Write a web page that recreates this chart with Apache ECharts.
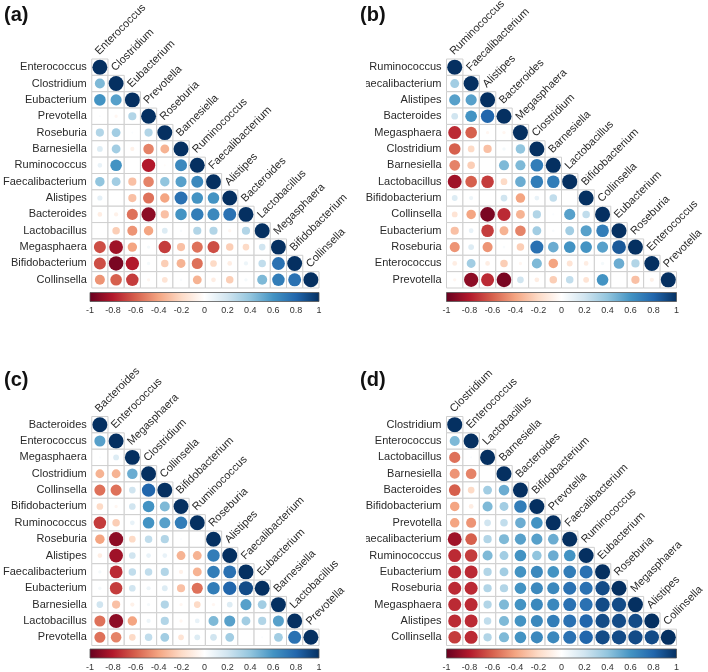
<!DOCTYPE html>
<html><head><meta charset="utf-8">
<script src="https://cdn.jsdelivr.net/npm/echarts@6/dist/echarts.min.js"></script>
<style>html,body{margin:0;padding:0;background:#fff}#c{width:708px;height:672px}</style>
</head><body><div id="c"></div>
<script>
// ---------- DATA ----------
const namesA = ["Enterococcus","Clostridium","Eubacterium","Prevotella","Roseburia","Barnesiella","Ruminococcus","Faecalibacterium","Alistipes","Bacteroides","Lactobacillus","Megasphaera","Bifidobacterium","Collinsella"];
const lowerA = [
  [],
  [0.45],
  [0.6,0.55],
  [0.02,-0.05,0.3],
  [0.3,0.35,0.02,0.3],
  [0.15,0.35,-0.08,-0.5,-0.35],
  [0.1,0.6,0.0,-0.8,-0.02,0.65],
  [0.4,0.35,-0.3,-0.5,0.4,0.55,0.65],
  [0.12,0.0,-0.3,-0.55,-0.4,0.75,0.6,0.6],
  [-0.1,-0.08,-0.55,-0.9,-0.3,0.6,0.7,0.65,0.75],
  [0.0,-0.25,-0.45,-0.4,0.15,0.03,0.3,0.3,-0.05,0.3],
  [-0.65,-0.85,-0.4,0.05,-0.7,-0.3,-0.55,-0.65,-0.25,-0.2,0.2],
  [-0.65,-0.95,-0.8,0.05,-0.25,-0.35,-0.55,-0.2,-0.1,0.08,0.25,0.75],
  [-0.45,-0.6,-0.7,-0.05,-0.15,0.03,-0.35,-0.1,-0.25,0.05,0.45,0.7,0.75]
];
const namesB = ["Ruminococcus","Faecalibacterium","Alistipes","Bacteroides","Megasphaera","Clostridium","Barnesiella","Lactobacillus","Bifidobacterium","Collinsella","Eubacterium","Roseburia","Enterococcus","Prevotella"];
const lowerB = [
  [],
  [0.35],
  [0.55,0.55],
  [0.2,0.6,0.8],
  [-0.75,-0.6,-0.05,-0.05],
  [-0.6,-0.2,-0.3,0.05,0.4],
  [-0.5,-0.25,0.0,0.45,0.45,0.7],
  [-0.85,-0.6,-0.7,-0.2,0.5,0.7,0.7],
  [0.15,0.08,0.0,0.2,-0.4,0.1,0.25,0.0],
  [-0.15,-0.4,-0.95,-0.75,-0.35,0.3,0.02,0.55,0.25],
  [-0.3,0.1,-0.7,-0.35,-0.5,0.35,0.03,0.35,0.55,0.7],
  [-0.45,0.15,-0.45,0.03,-0.25,0.75,0.5,0.6,0.6,0.55,0.85,0.9],
  [-0.1,0.35,-0.1,-0.25,-0.05,0.45,-0.4,-0.15,-0.1,0.05,0.5,0.3],
  [-0.05,-0.9,-0.75,-0.95,0.2,-0.1,-0.25,0.25,-0.15,0.6,0.0,-0.3,-0.08]
];
const namesC = ["Bacteroides","Enterococcus","Megasphaera","Clostridium","Collinsella","Bifidobacterium","Ruminococcus","Roseburia","Alistipes","Faecalibacterium","Eubacterium","Barnesiella","Lactobacillus","Prevotella"];
const lowerC = [
  [],
  [0.55],
  [0.02,0.15],
  [-0.35,-0.35,0.5],
  [-0.55,-0.55,0.2,0.8],
  [-0.2,-0.05,0.2,0.6,0.45],
  [-0.7,-0.25,0.1,0.6,0.55,0.7],
  [-0.4,-0.9,-0.2,0.25,0.3,0.02,0.0],
  [-0.1,-0.85,0.2,0.1,0.1,-0.35,-0.35,0.7],
  [0.05,-0.75,0.25,0.25,0.3,-0.08,-0.35,0.7,0.75],
  [0.05,-0.7,0.2,0.08,0.15,-0.3,-0.55,0.7,0.8,0.9],
  [0.2,-0.3,-0.08,0.05,0.3,-0.05,-0.2,-0.05,0.15,0.55,0.35],
  [-0.55,-0.9,-0.4,0.08,0.3,-0.05,0.1,0.45,0.55,0.35,0.3,0.55],
  [-0.55,-0.5,-0.2,0.25,0.35,-0.15,0.15,0.2,0.35,0.0,0.02,0.35,0.75]
];
const namesD = ["Clostridium","Enterococcus","Lactobacillus","Barnesiella","Bacteroides","Bifidobacterium","Prevotella","Faecalibacterium","Ruminococcus","Eubacterium","Roseburia","Megasphaera","Alistipes","Collinsella"];
const lowerD = [
  [],
  [0.45],
  [-0.55,0.02],
  [-0.45,-0.5,0.0],
  [-0.6,-0.2,0.35,0.5],
  [-0.4,-0.1,0.45,0.35,0.7],
  [-0.4,-0.45,0.2,0.25,0.5,0.6],
  [-0.85,-0.6,0.3,0.45,0.55,0.55,0.5],
  [-0.75,-0.7,0.45,0.35,0.6,0.4,0.5,0.6],
  [-0.75,-0.75,0.3,0.35,0.6,0.65,0.6,0.7,0.75],
  [-0.75,-0.75,0.3,0.3,0.6,0.65,0.65,0.75,0.75,0.9],
  [-0.75,-0.75,0.3,0.45,0.6,0.65,0.65,0.75,0.75,0.9,0.9],
  [-0.75,-0.75,0.25,0.45,0.6,0.65,0.7,0.75,0.8,0.9,0.9,0.9],
  [-0.7,-0.75,0.3,0.45,0.6,0.65,0.65,0.75,0.8,0.9,0.9,0.9,0.9]
];
const panelLabels = ["(a)","(b)","(c)","(d)"];
const colorbarTicks = [-1,-0.8,-0.6,-0.4,-0.2,0,0.2,0.4,0.6,0.8,1];
const palette = ["#67001F","#B2182B","#D6604D","#F4A582","#FDDBC7","#FFFFFF","#D1E5F0","#92C5DE","#4393C3","#2166AC","#053061"];

// ---------- HELPERS ----------
function hex(c){return [parseInt(c.slice(1,3),16),parseInt(c.slice(3,5),16),parseInt(c.slice(5,7),16)];}
function colorOf(r){
  let t=(r+1)/2*(palette.length-1);
  let i=Math.min(Math.floor(t),palette.length-2), f=t-i;
  const a=hex(palette[i]), b=hex(palette[i+1]);
  return 'rgb('+a.map((v,k)=>Math.round(v+(b[k]-v)*f)).join(',')+')';
}
const FONT = '"Liberation Sans", Arial, Helvetica, sans-serif';

function buildData(lower){
  const d=[];
  for(let i=0;i<lower.length;i++){
    for(let j=0;j<i;j++) d.push([j,i,lower[i][j]]);
    d.push([i,i,1]);
  }
  return d;
}
function makeRender(names){
  return function(params, api){
    const xi=api.value(0), yi=api.value(1), r=api.value(2);
    const c=api.coord([xi,yi]); const s=api.size([1,1]);
    const w=s[0], h=s[1];
    const ch=[
      {type:'rect',shape:{x:c[0]-w/2,y:c[1]-h/2,width:w,height:h},style:{fill:'#fff',stroke:'#cfcfcf',lineWidth:1}},
      {type:'circle',shape:{cx:c[0],cy:c[1],r:0.46*Math.min(w,h)*Math.sqrt(Math.abs(r))},style:{fill:colorOf(r)}}
    ];
    if(xi===yi){
      ch.push({type:'text',x:c[0]+1,y:c[1]-h/2-2,rotation:Math.PI/4,
        style:{text:names[xi],fill:'#2a2a2a',font:'11px '+FONT,align:'left',verticalAlign:'bottom'}});
    }
    return {type:'group',children:ch};
  };
}

// ---------- LAYOUT ----------
const panels=[
  {names:namesA,lower:lowerA,left:90,top:59,w:229,h:229,cbTop:292.5,lx:4,ly:15},
  {names:namesB,lower:lowerB,left:446.5,top:59,w:230,h:229,cbTop:292.5,lx:360,ly:15},
  {names:namesC,lower:lowerC,left:90,top:416.5,w:229,h:229,cbTop:649,lx:4,ly:380},
  {names:namesD,lower:lowerD,left:446.5,top:416.5,w:230,h:229,cbTop:649,lx:360,ly:380}
];
const grid=[],xAxis=[],yAxis=[],series=[],graphic=[];
panels.forEach((p,k)=>{
  const gi=grid.length;
  grid.push({left:p.left,top:p.top,width:p.w,height:p.h});
  xAxis.push({gridIndex:gi,type:'category',data:p.names,show:false});
  yAxis.push({gridIndex:gi,type:'category',data:p.names,inverse:true,
    axisLine:{show:false},axisTick:{show:false},splitLine:{show:false},
    axisLabel:{fontSize:11,fontFamily:FONT,color:'#2a2a2a',margin:5}});
  series.push({type:'custom',xAxisIndex:gi,yAxisIndex:gi,data:buildData(p.lower),renderItem:makeRender(p.names),animation:false,silent:true});
  // colorbar
  const ci=grid.length;
  grid.push({left:p.left,top:p.cbTop,width:p.w,height:9});
  xAxis.push({gridIndex:ci,type:'value',min:colorbarTicks[0],max:colorbarTicks[colorbarTicks.length-1],interval:0.2,
    axisLine:{show:false},axisTick:{show:false},splitLine:{show:false},
    axisLabel:{fontSize:9,fontFamily:FONT,color:'#333',margin:5}});
  yAxis.push({gridIndex:ci,type:'value',min:0,max:1,show:false});
  series.push({type:'custom',xAxisIndex:ci,yAxisIndex:ci,data:[[-1,0]],animation:false,silent:true,
    renderItem:function(params,api){
      const a=api.coord([-1,1]), b=api.coord([1,0]);
      return {type:'rect',shape:{x:a[0],y:a[1],width:b[0]-a[0],height:b[1]-a[1]},
        style:{fill:new echarts.graphic.LinearGradient(0,0,1,0,palette.map((c,i)=>({offset:i/(palette.length-1),color:c}))),
        stroke:'#555',lineWidth:0.8}};
    }});
  graphic.push({type:'text',left:p.lx,top:p.ly-10,style:{text:panelLabels[k],font:'bold 20px '+FONT,fill:'#111'}});
});
// left-edge clipping of the right-hand panels (as in the reference)
graphic.push({type:'rect',shape:{x:352,y:40,width:14,height:260},style:{fill:'#fff'},z:100});
graphic.push({type:'rect',shape:{x:352,y:400,width:14,height:250},style:{fill:'#fff'},z:100});

const chart=echarts.init(document.getElementById('c'),null,{renderer:'canvas'});
chart.setOption({animation:false,backgroundColor:'#fff',grid,xAxis,yAxis,series,graphic});
</script></body></html>
